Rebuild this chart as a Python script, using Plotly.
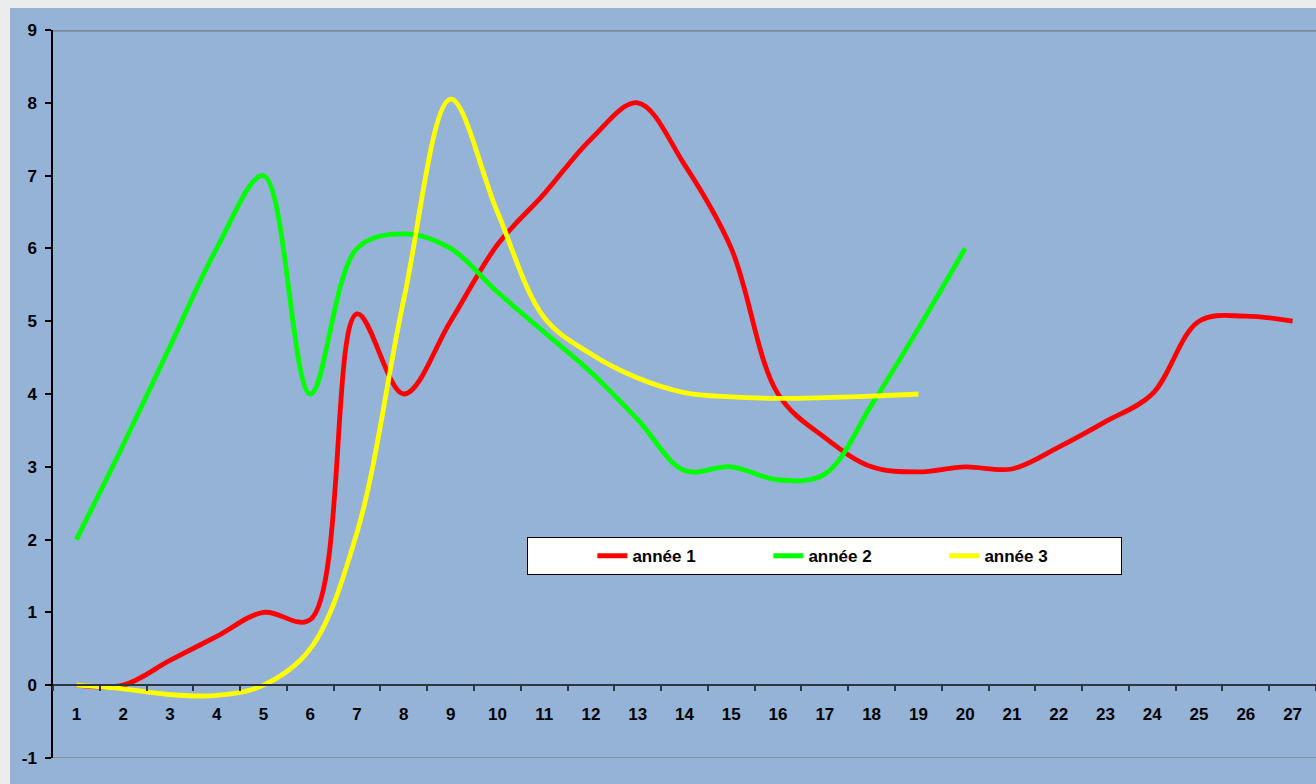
import plotly.graph_objects as go

x_labels = [str(i) for i in range(1, 28)]
annee1 = [0, 0, 0.34, 0.67, 1.0, 0.9, 5.1, 4.0, 5.0, 6.05, 6.75, 7.5, 8.0, 7.15,
          6.0, 4.0, 3.4, 3.0, 2.93, 3.0, 2.97, 3.27, 3.62, 4.0, 5.0, 5.07, 5.0]
annee2 = [2.0, 3.3, 4.65, 6.0, 7.0, 4.0, 6.0, 6.2, 6.0, 5.4, 4.85, 4.3, 3.65,
          2.95, 3.0, 2.82, 2.9, 3.85, 4.9, 6.0]
annee3 = [0, -0.05, -0.13, -0.14, 0, 0.5, 2.1, 5.3, 8.05, 6.5, 5.05, 4.55, 4.22,
          4.02, 3.96, 3.94, 3.95, 3.97, 4.0]
series_names = ["année 1", "année 2", "année 3"]
series_colors = ["#FF0000", "#00FF00", "#FFFF00"]
y_ticks = list(range(-1, 10))

BLUE = "#95B3D7"
PAGE = "#ECECEC"
FAMILY = "Liberation Sans, Arial, sans-serif"
tick_font = dict(family=FAMILY, size=17, color="black", weight="bold")
legend_font = dict(family=FAMILY, size=17, color="black", weight="bold")

fig = go.Figure()
for name, vals, col in zip(series_names, [annee1, annee2, annee3], series_colors):
    fig.add_trace(go.Scatter(
        x=x_labels[:len(vals)], y=vals, name=name, mode="lines",
        line=dict(color=col, width=4.8, shape="spline", smoothing=1.0),
    ))

# figure fills the whole 1316x784 page (body margin removed below)
W, H = 1316, 784
L, R, T, B = 53, 0, 30, 26
pw, ph = W - L - R, H - T - B


def px_x(p):  # screen px -> paper x
    return (p - L) / pw


def px_y(p):  # screen px -> paper y
    return (H - B - p) / ph


shapes = [
    # light page strips at top and left
    dict(type="rect", xref="paper", yref="paper", x0=px_x(-2), x1=px_x(W + 2),
         y0=px_y(8), y1=px_y(-2), fillcolor=PAGE, line_width=0, layer="above"),
    dict(type="rect", xref="paper", yref="paper", x0=px_x(-2), x1=px_x(10),
         y0=px_y(H + 2), y1=px_y(-2), fillcolor=PAGE, line_width=0, layer="above"),
    dict(type="line", xref="paper", yref="y", x0=0, x1=1, y0=9, y1=9,
         line=dict(color="#7F8A99", width=3.5), layer="below"),
    dict(type="line", xref="paper", yref="y", x0=0, x1=1, y0=-1, y1=-1,
         line=dict(color="#8A9099", width=2), layer="below"),
]

fig.update_layout(
    width=W, height=H,
    margin=dict(l=L, r=R, t=T, b=B),
    paper_bgcolor=BLUE, plot_bgcolor=BLUE,
    shapes=shapes,
    showlegend=True,
    legend=dict(
        orientation="h", x=px_x(527), y=px_y(537), xanchor="left", yanchor="top",
        bgcolor="white", bordercolor="black", borderwidth=1.2,
        font=legend_font, entrywidth=131, entrywidthmode="pixels",
        title=dict(text="&nbsp;" * 13, side="left",
                   font=dict(family=FAMILY, size=15, color="black")),
    ),
    xaxis=dict(
        type="category", categoryorder="array", categoryarray=x_labels,
        range=[-0.5, 26.5], anchor="free", position=px_y(685),
        showgrid=False, zeroline=False,
        showline=True, linecolor="#2F3640", linewidth=1.5,
        ticks="outside", tickson="boundaries", ticklen=5, tickcolor="#2F3640", tickwidth=1.5,
        tickfont=tick_font, ticklabelstandoff=14,
    ),
    yaxis=dict(
        range=[-1, 9], tickvals=y_ticks, ticktext=[str(v) for v in y_ticks],
        showgrid=False, zeroline=False,
        showline=True, linecolor="black", linewidth=1.5,
        ticks="outside", ticklen=6, tickcolor="black", tickwidth=1.5,
        tickfont=tick_font, ticklabelstandoff=5,
    ),
)

fig.write_html(
    "out.html",
    config={"displayModeBar": False},
    post_script="document.body.style.margin='0';"
                "document.body.style.background='%s';"
                "document.documentElement.style.overflow='hidden';"
                "document.body.style.overflow='hidden';" % PAGE,
)
